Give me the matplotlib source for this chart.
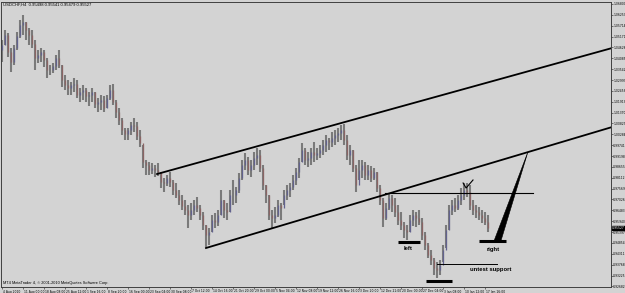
import matplotlib
matplotlib.use("Agg")
import matplotlib.pyplot as plt
import matplotlib.transforms as mtransforms
import numpy as np

# ---------------- data (USDCHF, H4, aggregated bars) ----------------
highs = [1.0500, 1.0550, 1.0535, 1.0460, 1.0475, 1.0540, 1.0600, 1.0625, 1.0590, 1.0560,
         1.0550, 1.0500, 1.0450, 1.0460, 1.0450, 1.0410, 1.0375, 1.0385, 1.0425, 1.0450,
         1.0375, 1.0325, 1.0300, 1.0290, 1.0310, 1.0300, 1.0260, 1.0275, 1.0260, 1.0240,
         1.0260, 1.0240, 1.0210, 1.0225, 1.0220, 1.0225, 1.0275, 1.0280, 1.0200, 1.0160,
         1.0110, 1.0060, 1.0060, 1.0090, 1.0110, 1.0090, 1.0050, 0.9975, 0.9900, 0.9890,
         0.9885, 0.9875, 0.9885, 0.9840, 0.9810, 0.9825, 0.9840, 0.9800, 0.9785, 0.9750,
         0.9725, 0.9700, 0.9675, 0.9685, 0.9700, 0.9715, 0.9675, 0.9640, 0.9575, 0.9560,
         0.9625, 0.9635, 0.9650, 0.9750, 0.9700, 0.9685, 0.9750, 0.9800, 0.9765, 0.9835,
         0.9900, 0.9935, 0.9915, 0.9900, 0.9940, 0.9960, 0.9950, 0.9875, 0.9775, 0.9725,
         0.9650, 0.9665, 0.9700, 0.9685, 0.9750, 0.9775, 0.9785, 0.9825, 0.9860, 0.9910,
         0.9985, 0.9960, 0.9940, 0.9960, 0.9990, 0.9960, 0.9975, 1.0000, 1.0025, 1.0010,
         1.0040, 1.0050, 1.0060, 1.0075, 1.0080, 1.0025, 0.9975, 0.9950, 0.9875, 0.9900,
         0.9900, 0.9890, 0.9875, 0.9870, 0.9860, 0.9840, 0.9775, 0.9710, 0.9685, 0.9735,
         0.9725, 0.9710, 0.9675, 0.9640, 0.9590, 0.9575, 0.9625, 0.9650, 0.9640, 0.9650,
         0.9610, 0.9540, 0.9485, 0.9450, 0.9410, 0.9390, 0.9400, 0.9475, 0.9575, 0.9675,
         0.9700, 0.9710, 0.9725, 0.9760, 0.9785, 0.9785, 0.9775, 0.9700, 0.9675, 0.9665,
         0.9650, 0.9640, 0.9625]
lows = [1.0390, 1.0475, 1.0415, 1.0340, 1.0375, 1.0450, 1.0510, 1.0525, 1.0500, 1.0475,
        1.0460, 1.0350, 1.0385, 1.0390, 1.0365, 1.0310, 1.0325, 1.0335, 1.0350, 1.0360,
        1.0265, 1.0250, 1.0225, 1.0225, 1.0240, 1.0210, 1.0190, 1.0200, 1.0190, 1.0170,
        1.0190, 1.0160, 1.0140, 1.0150, 1.0140, 1.0160, 1.0200, 1.0175, 1.0110, 1.0075,
        1.0025, 1.0000, 1.0000, 1.0025, 1.0040, 1.0000, 0.9965, 0.9860, 0.9825, 0.9825,
        0.9830, 0.9815, 0.9820, 0.9760, 0.9740, 0.9770, 0.9765, 0.9725, 0.9710, 0.9675,
        0.9650, 0.9625, 0.9560, 0.9600, 0.9625, 0.9640, 0.9600, 0.9550, 0.9465, 0.9475,
        0.9540, 0.9560, 0.9570, 0.9625, 0.9610, 0.9600, 0.9640, 0.9675, 0.9685, 0.9735,
        0.9800, 0.9850, 0.9825, 0.9815, 0.9850, 0.9875, 0.9840, 0.9750, 0.9685, 0.9600,
        0.9560, 0.9585, 0.9615, 0.9600, 0.9675, 0.9700, 0.9715, 0.9750, 0.9775, 0.9810,
        0.9890, 0.9875, 0.9865, 0.9875, 0.9890, 0.9900, 0.9910, 0.9925, 0.9940, 0.9950,
        0.9965, 0.9975, 0.9990, 1.0000, 0.9975, 0.9900, 0.9875, 0.9840, 0.9740, 0.9800,
        0.9810, 0.9800, 0.9800, 0.9790, 0.9800, 0.9740, 0.9675, 0.9565, 0.9600, 0.9650,
        0.9640, 0.9615, 0.9575, 0.9550, 0.9510, 0.9500, 0.9540, 0.9570, 0.9565, 0.9575,
        0.9500, 0.9450, 0.9410, 0.9375, 0.9325, 0.9310, 0.9325, 0.9390, 0.9460, 0.9550,
        0.9625, 0.9640, 0.9650, 0.9675, 0.9700, 0.9715, 0.9650, 0.9625, 0.9610, 0.9600,
        0.9585, 0.9575, 0.9540]
closes = [1.0475, 1.0525, 1.0440, 1.0390, 1.0460, 1.0520, 1.0575, 1.0590, 1.0550, 1.0525,
          1.0480, 1.0410, 1.0425, 1.0440, 1.0400, 1.0350, 1.0350, 1.0370, 1.0410, 1.0375,
          1.0300, 1.0275, 1.0260, 1.0275, 1.0280, 1.0225, 1.0240, 1.0250, 1.0220, 1.0225,
          1.0240, 1.0180, 1.0190, 1.0200, 1.0160, 1.0210, 1.0250, 1.0190, 1.0140, 1.0100,
          1.0050, 1.0030, 1.0050, 1.0075, 1.0070, 1.0020, 0.9985, 0.9890, 0.9875, 0.9850,
          0.9860, 0.9850, 0.9840, 0.9790, 0.9785, 0.9810, 0.9790, 0.9750, 0.9725, 0.9700,
          0.9670, 0.9650, 0.9625, 0.9650, 0.9675, 0.9660, 0.9625, 0.9575, 0.9525, 0.9540,
          0.9600, 0.9590, 0.9625, 0.9700, 0.9650, 0.9640, 0.9725, 0.9725, 0.9750, 0.9810,
          0.9875, 0.9900, 0.9850, 0.9875, 0.9910, 0.9925, 0.9860, 0.9775, 0.9725, 0.9625,
          0.9610, 0.9625, 0.9675, 0.9660, 0.9725, 0.9750, 0.9765, 0.9800, 0.9840, 0.9890,
          0.9950, 0.9900, 0.9910, 0.9940, 0.9925, 0.9935, 0.9950, 0.9975, 1.0000, 0.9990,
          1.0010, 1.0025, 1.0035, 1.0050, 1.0000, 0.9925, 0.9950, 0.9860, 0.9775, 0.9850,
          0.9875, 0.9825, 0.9850, 0.9810, 0.9840, 0.9760, 0.9700, 0.9610, 0.9660, 0.9710,
          0.9675, 0.9640, 0.9600, 0.9575, 0.9550, 0.9540, 0.9600, 0.9625, 0.9610, 0.9590,
          0.9525, 0.9475, 0.9425, 0.9400, 0.9360, 0.9350, 0.9375, 0.9450, 0.9550, 0.9650,
          0.9675, 0.9660, 0.9700, 0.9725, 0.9750, 0.9740, 0.9675, 0.9650, 0.9640, 0.9625,
          0.9610, 0.9590, 0.9560]
first_open = 1.0450

date_tick_pos = [0, 7, 14, 21, 28, 35, 42, 49, 56, 63, 70, 77, 84, 91, 98, 105,
                 112, 119, 126, 133, 140, 147, 154, 161]
date_labels = ["4 Aug 2010", "11 Aug 00:00", "18 Aug 08:00", "25 Aug 12:00", "1 Sep 16:00",
               "8 Sep 20:00", "16 Sep 00:00", "23 Sep 04:00", "30 Sep 08:00", "7 Oct 12:00",
               "14 Oct 16:00", "21 Oct 20:00", "29 Oct 00:00", "5 Nov 04:00", "12 Nov 08:00",
               "19 Nov 12:00", "26 Nov 16:00", "3 Dec 20:00", "12 Dec 21:00", "20 Dec 00:00",
               "27 Dec 04:00", "3 Jan 08:00", "10 Jan 12:00", "17 Jan 16:00"]
price_ticks = [1.06800, 1.06257, 1.05714, 1.05171, 1.04628, 1.04085, 1.03542, 1.02999,
               1.02456, 1.01913, 1.01370, 1.00827, 1.00284, 0.99741, 0.99198, 0.98655,
               0.98112, 0.97569, 0.97026, 0.96483, 0.95940, 0.95397, 0.94854, 0.94311,
               0.93768, 0.93225, 0.92682]

# hand-drawn objects on the chart (bar index, price)
channel_upper = ([51.7, 203.4], [0.9830, 1.0460])
channel_lower = ([68.0, 203.4], [0.9460, 1.0065])
neckline = ([127.7, 177.0], [0.9735, 0.9735])
left_bar = ([132.0, 139.3], [0.9490, 0.9490])
right_bar = ([159.0, 168.0], [0.9495, 0.9495])
low_bar = ([141.3, 150.0], [0.9295, 0.9295])
untest_line = ([145.0, 165.0], [0.9380, 0.9380])
wedge = ([175.3, 166.3, 164.0], [0.9940, 0.9495, 0.9495])
check_mark = ([153.7, 154.7, 157.0], [0.9785, 0.9760, 0.9800])
notes = [("left", 135.3, 0.9455), ("right", 163.8, 0.9455), ("untest support", 163.0, 0.9355)]
title_text = "USDCHF,H4  0.95498 0.95541 0.95479 0.95527"
last_price = "0.95527"

# ---------------- figure ----------------
W, H = 625, 293
BG = "#d3d3d3"
fig = plt.figure(figsize=(W / 100, H / 100), dpi=100, facecolor=BG)
ax = fig.add_axes([1 / W, (H - 287) / H, (611 - 1) / W, (287 - 2) / H], facecolor=BG)
ax.set_xlim(-0.333, 203.0)
ax.set_ylim(0.9265, 1.069)

idx = np.arange(len(highs))
hi = np.array(highs)
lo = np.array(lows)
cl = np.array(closes)
op = np.concatenate([[first_open], cl[:-1]])

ax.vlines(idx, lo, hi, color="#7a7a7a", lw=1.5, zorder=2)
up = cl >= op
body_lo = np.minimum(op, cl)
body_hi = np.maximum(op, cl)
ax.vlines(idx[up], body_lo[up], body_hi[up], color="#62628e", lw=0.9, zorder=3)
ax.vlines(idx[~up], body_lo[~up], body_hi[~up], color="#8a6464", lw=0.9, zorder=3)

k = "black"
ax.plot(*channel_upper, color=k, lw=1.3, zorder=4)
ax.plot(*channel_lower, color=k, lw=1.3, zorder=4)
ax.plot(*neckline, color=k, lw=0.8, zorder=4)
ax.plot(*left_bar, color=k, lw=2.2, zorder=4, solid_capstyle="butt")
ax.plot(*right_bar, color=k, lw=2.2, zorder=4, solid_capstyle="butt")
ax.plot(*low_bar, color=k, lw=2.2, zorder=4, solid_capstyle="butt")
ax.plot(*untest_line, color=k, lw=0.7, zorder=4)
ax.fill(*wedge, color=k, lw=0.4, zorder=4)
ax.plot(*check_mark, color=k, lw=0.8, zorder=4)
for txt, xx, yy in notes:
    ax.text(xx, yy, txt, ha="center", va="center", fontsize=4.2, fontweight="bold",
            family="Liberation Sans", color="black", zorder=5)

# axes styling
for s in ax.spines.values():
    s.set_color("#404040")
    s.set_linewidth(0.7)
ax.yaxis.tick_right()
ax.set_yticks(price_ticks)
ax.set_yticklabels([f"{v:.5f}" for v in price_ticks])
ax.set_xticks(date_tick_pos)
ax.set_xticklabels(date_labels)
ax.tick_params(axis="x", direction="out", length=1.5, width=0.5, color="#404040",
               labelsize=2.2, pad=0.3, labelcolor="black")
ax.tick_params(axis="y", direction="out", length=1.2, width=0.5, color="#404040",
               labelsize=2.2, pad=0.4, labelcolor="black")
offset = mtransforms.ScaledTranslation(0.8 / 100, 0, fig.dpi_scale_trans)
for lab in ax.get_xticklabels():
    lab.set_horizontalalignment("left")
    lab.set_transform(lab.get_transform() + offset)
    lab.set_family("Liberation Sans Narrow")
for lab in ax.get_yticklabels():
    lab.set_family("Liberation Sans Narrow")

# current price marker
ax.text(1.002, float(cl[-1]), last_price, transform=ax.get_yaxis_transform(),
        ha="left", va="center", fontsize=2.2, color="white", family="Liberation Sans Narrow",
        bbox=dict(boxstyle="square,pad=0.1", fc="black", ec="black"), clip_on=False)

fig.text(3 / W, 1 - 5 / H, title_text, fontsize=3.0, va="center", ha="left",
         family="Liberation Sans", color="black")
fig.text(3 / W, 1 - 283 / H, "MT4 MetaTrader 4, \u00a9 2001-2010 MetaQuotes Software Corp.",
         fontsize=2.8, va="center", ha="left", family="Liberation Sans", color="black")

fig.savefig("out.png", dpi=100, facecolor=BG)
